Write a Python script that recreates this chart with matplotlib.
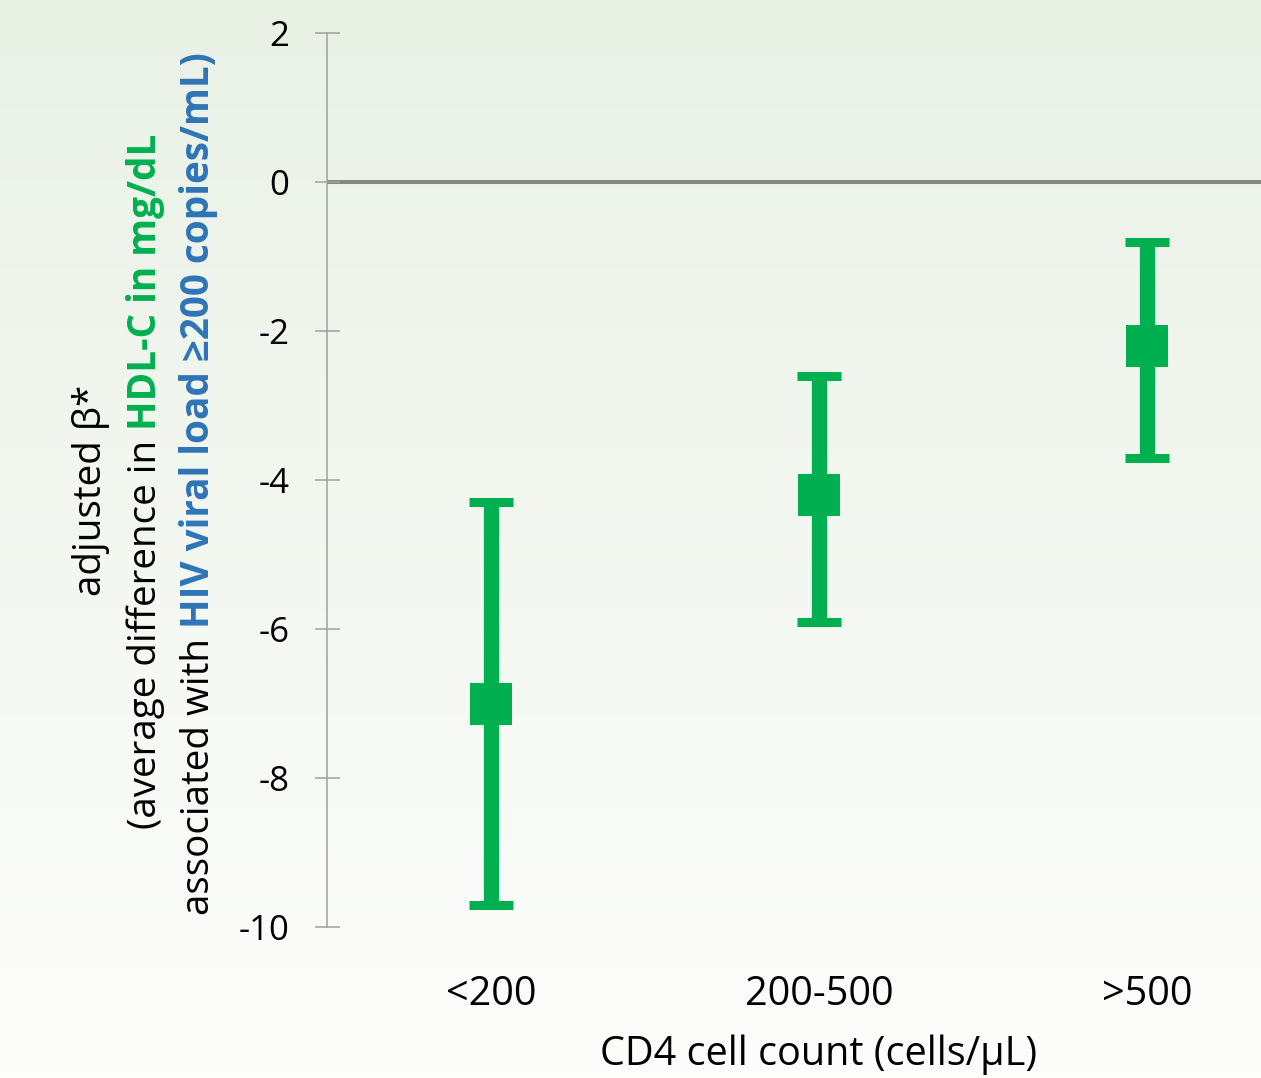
import numpy as np
import matplotlib
matplotlib.use("Agg")
import matplotlib.pyplot as plt

categories = ["<200", "200-500", ">500"]
beta = [-7.0, -4.2, -2.2]
ci_low = [-9.7, -5.9, -3.7]
ci_high = [-4.3, -2.6, -0.8]

green = "#00B050"
blue = "#2E75B6"
grey = "#A0A0A0"

plt.rcParams["font.family"] = ["Open Sans", "DejaVu Sans"]
plt.rcParams["axes.unicode_minus"] = False

fig = plt.figure(figsize=(12.61, 10.78), dpi=100)

# background gradient, pale green at the top fading to white
bg = fig.add_axes([0, 0, 1, 1])
top = np.array([233, 241, 229]) / 255
bottom = np.array([253, 253, 252]) / 255
t = np.linspace(0, 1, 256)[:, None]
grad = top * (1 - t) + bottom * t
bg.imshow(grad[:, None, :], aspect="auto", extent=[0, 1, 0, 1])
bg.axis("off")

ax = fig.add_axes([327 / 1261, 1 - 927 / 1078, 984 / 1261, 894 / 1078])
ax.set_facecolor("none")

x = np.arange(len(categories)) + 0.5
mid = np.array(beta)
yerr = [mid - np.array(ci_low), np.array(ci_high) - mid]
ax.axhline(0, color="#868686", lw=2.9, zorder=1)
ax.errorbar(x, mid, yerr=yerr, fmt="none", ecolor=green,
            elinewidth=11, capsize=15.5, capthick=6.5, zorder=3)
ax.plot(x, mid, "s", color=green, ms=30, mew=0, zorder=4)

ax.set_xlim(0, 3)
ax.set_ylim(-10, 2)
ax.set_yticks([2, 0, -2, -4, -6, -8, -10])
ax.set_xticks(x)
ax.set_xticklabels(categories, fontsize=28.5)
ax.tick_params(axis="x", length=0, pad=34)
ax.tick_params(axis="y", direction="inout", length=18, width=1.1,
               color=grey, labelsize=25, pad=18)
for s in ["top", "right", "bottom"]:
    ax.spines[s].set_visible(False)
ax.spines["left"].set_color(grey)
ax.spines["left"].set_linewidth(1.1)
ax.set_xlabel("CD4 cell count (cells/\u00b5L)", fontsize=28.5, labelpad=14)

# multi-coloured rotated y label, pieces placed one after another
fig.canvas.draw()
renderer = fig.canvas.get_renderer()


def place(x_px, y_center_from_top, parts, size):
    texts = []
    lengths = []
    for s, color, weight in parts:
        tx = fig.text(0, 0, s, rotation=90, rotation_mode="anchor",
                      ha="left", va="baseline", color=color,
                      fontweight=weight, fontsize=size)
        texts.append(tx)
        lengths.append(tx.get_window_extent(renderer).height)
    p1 = fig.text(0, 0, "a a", fontsize=size)
    p2 = fig.text(0, 0, "aa", fontsize=size)
    space = p1.get_window_extent(renderer).width - p2.get_window_extent(renderer).width
    p1.remove()
    p2.remove()
    total = sum(lengths) + space * (len(parts) - 1)
    y = (1078 - y_center_from_top) - total / 2
    for tx, h in zip(texts, lengths):
        tx.set_position((x_px / 1261, y / 1078))
        y += h + space


place(101, 490, [("adjusted \u03b2*", "black", "normal")], 27.8)
place(156, 481, [("(average difference in", "black", "normal"),
                 ("HDL-C in mg/dL", green, "bold")], 27.8)
place(209, 484, [("associated with", "black", "normal"),
                 ("HIV viral load \u2265200 copies/mL)", blue, "bold")], 27.8)

fig.savefig("out.png", dpi=100)
